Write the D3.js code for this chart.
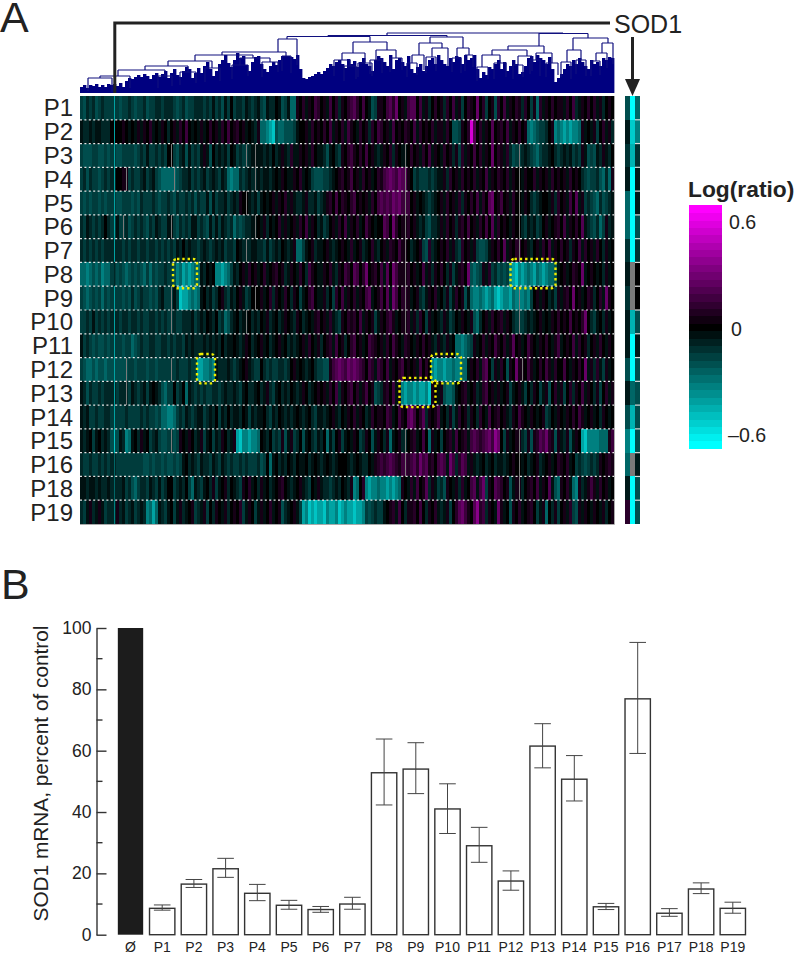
<!DOCTYPE html>
<html><head><meta charset="utf-8"><style>html,body{margin:0;padding:0;background:#fff}svg{display:block}text{font-family:"Liberation Sans",Arial,sans-serif;fill:#222}</style>
<script src="https://cdn.jsdelivr.net/npm/d3@7"></script></head><body><div id="c"></div>
<script>
const patients=["P1","P2","P3","P4","P5","P6","P7","P8","P9","P10","P11","P12","P13","P14","P15","P16","P18","P19"];
// Heat map cells: 0 black, 1-9 teal steps, a-g purple steps, x missing
const heatRows=[
"3423243233 3734332343 3243322322 2343243322 2323132413 0322312321 3412201431 55a0b1a0cb 0a1c0b2a0b cdb0c0143a a0cdbe0a1c dd0c1a20b0 a2b0c1a30b a0e0b30a4b 0c1a0ba2b0 3a5b1a0b0a a1b0c21a0b 0b1a20a0",
"1221211222 0700a0101a 1a0b101a02 0a1b0c0101 a10b0a1b0c 0ab0a1012a 5567845544 43100a1b0a 0b0c1a0b1c a01b0a2b0c b0a1c0a0ba 0c1b0a0b1a a1b0443a0b gd0b1a0d0a b0c1a0b0a5 6543320a65 6767665a10 1a30b1a2",
"3444334434 3744333343 2313323230 x342141323 1a14021213 01323x21x1 1212021a12 b11a0a1b01 1241023a0b ca0b0c0a12 1a0b2a01x0 b0a1b0c1a0 1b0a2a3b1a 0c0b1a0e0b a1b243x212 3453221023 2121323a14 3412a120",
"3242334323 2700ax3233 2132134555 5x43221323 2132123125 65523212x1 2112101a01 1a0b101344 433210ab0a c0a1b0a10b acdedcedxa 0323332321 1a2b0a1b0a 0b1a0c1a0b a0b1a0x1a0 0b1a0a1b0a 0a1b0a0234 3324525a",
"3434334343 3744333434 2333234332 3423323242 3314132213 212a0x1213 1010a1a0b1 a1221a2213 21ab0c0ba0 bc0a0a1b0c dcdcedecxc 0a10123210 a1b0a1b2a0 b0c1b0de0a c0a1b0x1a0 2321001a2b 0a1c0d1a32 34524321",
"2312323202 3713x24323 2342312331 x342323113 2341313123 25343221x0 1a2010b1a1 0a1b0c1a02 1320a1b0c1 a0b10ca010 0dc0eb0axb 0a12134221 a1b0a2ab0c 0a1b0c0d1b 0a01a0x231 21320a10ab 0c1a0b0d12 34253a21",
"2323232322 2722323223 2232232323 2312021223 2123212132 23012x2112 2313212012 1a55310a21 10a1210a01 b10a210b12 0a1ba0cax0 210a34b210 a0b1a23b0a 1a3443 1a0b 0d1a0bx0a1 20a1b0c1a0 b0a2a0c1b0 a1b02a10",
"5565454655 3243454343 4535343323 3465767655 1201066765 3120a1b0a1 0b10ab0a21 a01b02ca01 1a0b12a0cb 0dc0be0ab0 c1d0ecaa x b 0a10c1a2a0 b02a31ab0e 4543a1b324 3436786765 6756765541 0a10ba0e10 a0102a10",
"3454343534 3733434243 2334342133 x138776565 1021320a23 120a1320x0 a10b2a01b0 2a0310bc01 1a203b0c1a 0b1a0cd10a c0d1ec0bxa 10a231a0b1 02a31b0a41 5665676578 766756x656 30a1a0213a 1ab0e0a10b a20b1ea0",
"3323132323 2723223223 2332232323 x233222132 1201203254 21021x0212 01a2102 1a0 12a02101ab 0a1b123a0b ab0c1a0a31 a0bca10axb 1a2b03a101 2a13201a01 a45 20a1b0a b1a023x321 210a101a0b 0a0c0a0be0 23102a10",
"1323434434 3733433543 2332233223 2322312122 2121212021 10121a0210 a102 10a102 1210a1b01a 20ab1c0a20 bc0a10cba0 a1b0ca01ba 01a0b0a12a 12a1055654 3a10b1a0ca 0b1ad0a10c a01a0b01ac 10a0c1b0a2 0a1b01a0",
"3455454454 47444x3343 3343343333 x323332337 7665612221 23210a1233 0232332232 0a10121023 344acdedce dedcb0cb1c b0c1a0bc0a 0a1c0b0676 6766566551 a0b1cd03a1 b04a0eax0c a10b0ca1b0 0c01a0b0e1 a2b13a10",
"1242332322 2732 2x3123 2131012453 3032051232 3233223212 2123102210 21a2310212 0121a02 10a 0a1b0c2a0b c0b1ac0a43 2ab0c1a676 6767768a01 a455410ab1 0a21bc0a1a 10a310a130 2a031a40b1 a30b2a0c1a 02a30b1a",
"1213323322 3733323333 2323343556 6532312321 1321203120 2112013121 1023120121 2101210231 1210a1201a 0b1a021b0a a0cb10ca0d ec0bd2a0ac 102a31b0a2 a02b01c0ab 0a12a0ca01 a010a32 01a 01a0b0ca10 a102a010",
"1210310212 4841265102 a103213443 x43a01a021 a3103 12a02 1a78667665 0120323a41 a32041 0231 2051 30a310 1a032a041a 02a510a2x0 ab10c05a10 30ab1c0ab1 cdcbcdecfe 03a10ax23a 4abdceba4a 12a41a0786 66655 5ac",
"2332332323 2533333333 3443433434 4343102123 1223123123 2332323332 4305102120 1201102101 2101210001 21012201ab cbcdcbacxb cdbecdab0c dc1ec2bdc1 a121021021 1210a0x102 10a210a10b a0b1032343 232a0aba",
"1121121221 2522132453 2231231320 0321203512 3102a310a2 0123a0b102 a102 10ab01 210a12301a 1223212012 a650b67665 6676765a01 b1c0ad2a13 24a01a2b10 cd1ce3a0dc b0a41ax20a b0c1a0d145 a0b156a21a ca1b0a10",
"231a21a132 26a2132132 1265751231 031a210a32 1a302a01a2 0a0b31a031 a10b10a421 0a13768787 7867768767 7877634323 310ab1c02a ab0c02a0b1 21a30bdeca 0dfbc2a01e a104a0b10a b031a502a3 0a1b34a1a0 1a01a20a"
];
const grid=heatRows.map(r=>r.replace(/\s/g,""));
const sod1Left=[-0.18,-0.06,-0.12,-0.06,-0.24,-0.24,-0.12,-0.06,-0.12,-0.06,-0.06,-0.18,-0.06,-0.18,-0.3,-0.24,-0.06,0.1];
const sod1Mid=[-0.6,-0.48,-0.42,-0.6,-0.6,-0.6,-0.6,null,null,-0.42,-0.6,-0.6,-0.24,-0.42,-0.6,null,-0.6,-0.6];
const sod1Right=[-0.24,-0.3,-0.12,-0.06,-0.06,-0.18,-0.12,0,0,-0.18,-0.06,-0.18,-0.18,-0.18,-0.18,-0.06,-0.18,-0.18];
const highlightBoxes=[[31,39,7,7],[143.5,158.5,7,7],[39,45,11,11],[117,127,11,11],[106.5,118.5,12,12]];
// Dendrogram: silhouette height at each column, and merges [position, height, ...children]
const dendroHeights=[6,8,5,8,7,9,6,8,6,9,8,9,7,10,6,12,15,14,16,18,16,19,17,14,18,20,16,19,22,15,20,24,18,16,22,26,24,15,20,25,20,27,31,24,17,22,29,33,38,30,26,33,40,35,37,28,22,31,36,37,29,24,21,27,31,28,33,37,37,37,36,34,38,24,15,14,16,17,19,21,19,22,25,29,27,31,33,29,25,34,29,32,26,31,35,29,27,22,33,37,35,31,27,38,24,33,35,31,27,37,24,20,26,29,22,27,33,35,29,38,33,29,27,35,31,37,36,29,38,33,35,38,24,15,21,18,26,24,29,33,24,31,22,27,33,29,19,21,27,35,37,31,38,35,33,29,36,24,11,15,19,24,29,27,33,29,35,31,27,24,33,29,31,27,35,33,36,35];
const dendroTree=[407,60,
 [307,57.5,
  [248,56.5,
   [207,54,
    [198,41,
     [142,38,
      [115,32,
       [88,27,
        [65,23,
         [38,17,[20,15,[8,10],[32,9]],[50,13]],
         [85,17,[78,13],[92,15]]],
        [108,21,[100,16],[116,18]]],
       [132,25,[125,19],[140,20]]],
      [173,35,[160,28,[152,22],[168,25]],[190,31,[182,24],[198,29]]]],
     [206,37,[202,30],[211,28]]],
    [217,36]],
   [290,51,
    [273,40,[262,33,[254,25],[270,27,[264,20],[276,22]]],[285,30,[278,24],[292,25]]],
    [307,43,[296,33,[290,27],[302,28]],[316,35,[310,29],[322,31]]]]],
  [367,56,
   [350,50,[339,38,[332,30,[327,24],[337,26]],[344,31]],[362,45,[352,36,[346,28],[356,30]],[368,35]]],
   [383,45,[377,35,[372,29],[381,28]],[389,38,[385,30],[393,34]]]]],
 [483,59.5,
  [459,47,
   [428,43,
    [412,38,[402,26,[397,20],[408,22]],[420,30,[414,22],[426,24]]],
    [447,37,[438,28,[433,22],[443,24]],[452,30]]],
   [464,40,[456,33,[450,27],[460,25]],[472,30,[466,24],[478,26]]]],
  [508,55,
   [493,43,[487,31,[481,24],[491,22]],[501,33,[496,27],[506,25]]],
   [528,50,[522,40,[516,32,[511,25],[520,26]],[527,33]],[533,37]]]]];
// Bar chart
const barLabels=["Ø","P1","P2","P3","P4","P5","P6","P7","P8","P9","P10","P11","P12","P13","P14","P15","P16","P17","P18","P19"];
const barValues=[100,8.6,16.5,21.5,13.5,9.6,8.2,10,52.8,54,41,29,17.5,61.5,50.7,9.1,76.9,7,14.9,8.6];
const barHigh=[null,9.7,18,24.9,16.4,11.2,9.2,12.2,63.8,62.6,49.2,35,20.8,68.8,58.4,10.2,95.3,8.5,16.9,10.6];
const barLow=[null,8,15.4,18.7,11.1,8.3,7.3,8.3,42.3,46,33,23.6,14.5,54.4,43.6,8.2,59.1,6,13.4,7];
const yMajor=[0,20,40,60,80,100], yMinor=[10,30,50,70,90];

const levelVal={"0":0,"1":-.04,"2":-.09,"3":-.14,"4":-.18,"5":-.24,"6":-.3,"7":-.38,"8":-.46,"9":-.55,a:.05,b:.09,c:.14,d:.19,e:.24,f:.32,g:.5};
const color=d3.scaleLinear().domain([-.6,0,.6]).range(["#00ffff","#000000","#ff00ff"]).clamp(true);
const MISSING="#7a7a7a";
const THIN_COL=11;
const svg=d3.select("#c").append("svg").attr("width",796).attr("height",955);

// Panel letters
svg.append("text").attr("x",0).attr("y",32).attr("font-size",43).text("A");
svg.append("text").attr("x",1).attr("y",599).attr("font-size",43).text("B");

// Heat map
const nCols=178;
const xH=d3.scaleLinear().domain([0,nCols]).range([80,614]);
const yH=d3.scaleBand().domain(patients).range([96,524]);
const heat=svg.append("g").attr("shape-rendering","crispEdges");
const cellColor=d=>d==="x"?MISSING:color(levelVal[d]);
grid.forEach((row,r)=>{
  const cells=row.split("");
  const thin=(d,i)=>d==="x"||i===THIN_COL;
  const g=heat.append("g");
  // full-width cell; missing and single-spot cells keep the neighbour colour behind a thin stripe
  g.selectAll(null).data(cells).join("rect")
   .attr("x",(d,i)=>xH(i)).attr("width",(d,i)=>xH(i+1)-xH(i))
   .attr("y",yH(patients[r])).attr("height",yH.bandwidth())
   .attr("fill",(d,i)=>thin(d,i)?cellColor(cells[i-1]==="x"?"1":cells[i-1]):cellColor(d));
  g.selectAll(null).data(cells.map((d,i)=>[d,i]).filter(c=>thin(c[0],c[1]))).join("rect")
   .attr("x",c=>xH(c[1])+.5).attr("width",1.5)
   .attr("y",yH(patients[r])).attr("height",yH.bandwidth())
   .attr("fill",c=>cellColor(c[0]));
});
svg.append("path").attr("d",`M${xH(0)},${yH.range()[1]+.5}H${xH(nCols)+.5}V${yH.range()[0]}`).attr("fill","none").attr("stroke","#aaa").attr("stroke-width",1);
svg.append("g").selectAll("line").data(patients.slice(1)).join("line")
 .attr("x1",xH(0)).attr("x2",xH(nCols)).attr("y1",d=>yH(d)).attr("y2",d=>yH(d))
 .attr("stroke","#e4e4e4").attr("stroke-width",1.2).attr("stroke-dasharray","2 2.4");
svg.append("g").selectAll("text").data(patients).join("text")
 .attr("x",73).attr("y",d=>yH(d)+yH.bandwidth()/2+8.5).attr("text-anchor","end").attr("font-size",24).text(d=>d);

// Highlight boxes
svg.append("g").selectAll("rect").data(highlightBoxes).join("rect")
 .attr("x",d=>xH(d[0])).attr("width",d=>xH(d[1])-xH(d[0]))
 .attr("y",d=>yH(patients[d[2]])-3.5).attr("height",d=>yH.bandwidth()+5.5)
 .attr("rx",4).attr("fill","none").attr("stroke","#eeee00").attr("stroke-width",2.4).attr("stroke-dasharray","2.4 2.9");

// SOD1 strip
const stripCols=[sod1Left,sod1Mid,sod1Right];
const xS=d3.scaleBand().domain([0,1,2]).range([625,640]);
const strip=svg.append("g").attr("shape-rendering","crispEdges");
stripCols.forEach((col,c)=>{
 strip.selectAll(null).data(col).join("rect").attr("x",xS(c)).attr("width",xS.bandwidth())
  .attr("y",(d,i)=>yH(patients[i])).attr("height",yH.bandwidth())
  .attr("fill",d=>d===null?MISSING:color(d));
});
svg.append("g").selectAll("line").data(patients.slice(1)).join("line")
 .attr("x1",xS(2)).attr("x2",640).attr("y1",d=>yH(d)).attr("y2",d=>yH(d)).attr("stroke","#ddd").attr("stroke-width",1.2);

// Dendrogram
const xD=d3.scaleLinear().domain([0,534]).range([80,614]);
const yD=d3.scaleLinear().domain([0,70]).range([93,23]);
const dendro=svg.append("g");
dendro.selectAll("rect").data(dendroHeights).join("rect")
 .attr("x",(d,i)=>xH(i)).attr("width",(d,i)=>xH(i+1)-xH(i)+.4)
 .attr("y",d=>yD(d)).attr("height",d=>yD(0)-yD(d)).attr("fill","#000080");
const links=[];
(function walk(n){
 const kids=n.slice(2);
 if(!kids.length) return;
 const ps=kids.map(k=>k[0]);
 links.push(`M${xD(d3.min(ps))},${yD(n[1])}H${xD(d3.max(ps))}`);
 kids.forEach(k=>{links.push(`M${xD(k[0])},${yD(n[1])}V${yD(k.length>2?k[1]:Math.max(0,k[1]-8))}`);walk(k);});
})(dendroTree);
dendro.append("path").attr("d",links.join("")).attr("fill","none").attr("stroke","#10107f").attr("stroke-width",1.2);

// SOD1 callout
const sodCol=11.6;
svg.append("path").attr("d",`M${xH(sodCol)},${yH.range()[0]-3}V23H610`).attr("fill","none").attr("stroke","#222").attr("stroke-width",3);
svg.append("text").attr("x",614).attr("y",33).attr("font-size",25).text("SOD1");
svg.append("line").attr("x1",632.5).attr("x2",632.5).attr("y1",37).attr("y2",85).attr("stroke","#222").attr("stroke-width",3);
svg.append("path").attr("d",d3.line()([[625,79],[640,79],[632.5,96]])).attr("fill","#222");

// Colour legend
const legendSteps=d3.range(-.6,.6001,.0375);
const yL=d3.scaleLinear().domain([-.6,.6]).range([445,209]);
const cb=svg.append("g").attr("shape-rendering","crispEdges");
cb.selectAll("rect").data(legendSteps).join("rect").attr("x",689).attr("width",33)
 .attr("y",d=>yL(d)-4).attr("height",8.2).attr("fill",d=>color(d));
svg.append("rect").attr("x",689).attr("y",209).attr("width",33).attr("height",4).attr("fill","#ff00ff");
svg.append("rect").attr("x",689).attr("y",441).attr("width",33).attr("height",4).attr("fill","#00ffff");
svg.append("text").attr("x",688).attr("y",197).attr("font-size",22.8).attr("font-weight","bold").text("Log(ratio)");
[["0.6",729,229],["0",731,336],["–0.6",728,442]].forEach(t=>svg.append("text").attr("x",t[1]).attr("y",t[2]).attr("font-size",19.6).text(t[0]));

// Bar chart
const xB=d3.scaleBand().domain(barLabels).range([114.65,748.65]).paddingInner(.2).paddingOuter(.1);
const yB=d3.scaleLinear().domain([0,100]).range([934.7,628]);
const axMaj=d3.axisLeft(yB).tickValues(yMajor).tickSizeInner(-10).tickSizeOuter(0).tickPadding(5);
const gA=svg.append("g").attr("transform","translate(96.5,0)").call(axMaj);
gA.selectAll("line").attr("stroke","#333").attr("stroke-width",1.4);
gA.select(".domain").attr("stroke","#333").attr("stroke-width",1.4);
gA.selectAll("text").attr("font-size",17.5).attr("font-family","Liberation Sans").attr("fill","#222");
svg.append("g").selectAll("line").data(yMinor).join("line").attr("x1",96.5).attr("x2",102.5)
 .attr("y1",d=>yB(d)).attr("y2",d=>yB(d)).attr("stroke","#333").attr("stroke-width",1.4);
svg.append("text").attr("transform",`translate(48,773.5) rotate(-90)`).attr("text-anchor","middle").attr("font-size",20.8).text("SOD1 mRNA, percent of control");
const bars=svg.append("g");
bars.selectAll("rect").data(barValues).join("rect")
 .attr("x",(d,i)=>xB(barLabels[i])).attr("width",xB.bandwidth())
 .attr("y",d=>yB(d)).attr("height",d=>yB(0)-yB(d))
 .attr("fill",(d,i)=>i===0?"#1c1c1c":"#fff").attr("stroke",(d,i)=>i===0?"none":"#333").attr("stroke-width",1.4);
const errs=barValues.map((d,i)=>i).filter(i=>barHigh[i]!==null);
const ep=errs.map(i=>{const c=xB(barLabels[i])+xB.bandwidth()/2,h=8.3;
 return `M${c},${yB(barHigh[i])}V${yB(barLow[i])}M${c-h},${yB(barHigh[i])}H${c+h}M${c-h},${yB(barLow[i])}H${c+h}`;}).join("");
svg.append("path").attr("d",ep).attr("fill","none").attr("stroke","#444").attr("stroke-width",1);
svg.append("g").selectAll("text").data(barLabels).join("text")
 .attr("x",d=>xB(d)+xB.bandwidth()/2).attr("y",952).attr("text-anchor","middle").attr("font-size",14).text(d=>d);
</script></body></html>
